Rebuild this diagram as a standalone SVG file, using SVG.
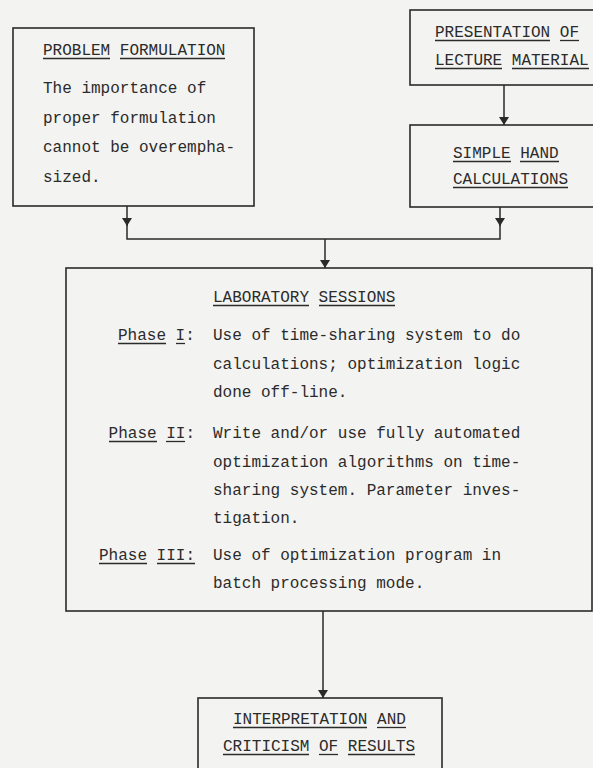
<svg xmlns="http://www.w3.org/2000/svg" width="593" height="768" viewBox="0 0 593 768">
<defs>
<style>
.box{fill:none;stroke:#2a2a2a;stroke-width:1.6}
.t{font-family:"Liberation Mono","Courier New",monospace;font-size:16px;fill:#2b2b2b}
.u{stroke:#2b2b2b;stroke-width:1.3}
.c{fill:none;stroke:#2a2a2a;stroke-width:1.5}
</style>
<marker id="ah" viewBox="0 0 8 10" refX="8" refY="5" markerWidth="8" markerHeight="10" markerUnits="userSpaceOnUse" orient="auto">
<path d="M0,0 L8,5 L0,10 z" fill="#2a2a2a"/>
</marker>
</defs>
<rect width="593" height="768" fill="#f3f3f1"/>

<g id="problem">
<rect class="box" x="13" y="28" width="241" height="178"/>
<text class="t" x="43" y="55">PROBLEM FORMULATION</text>
<line class="u" x1="43" y1="58.5" x2="110" y2="58.5"/>
<line class="u" x1="120" y1="58.5" x2="225" y2="58.5"/>
<text class="t" x="43" y="93">The importance of</text>
<text class="t" x="43" y="122.5">proper formulation</text>
<text class="t" x="43" y="152">cannot be overempha-</text>
<text class="t" x="43" y="181.5">sized.</text>
</g>

<g id="presentation">
<rect class="box" x="410" y="10" width="200" height="75"/>
<text class="t" x="435" y="37">PRESENTATION OF</text>
<line class="u" x1="435" y1="40.5" x2="550" y2="40.5"/>
<line class="u" x1="560" y1="40.5" x2="579" y2="40.5"/>
<text class="t" x="435" y="65">LECTURE MATERIAL</text>
<line class="u" x1="435" y1="68.5" x2="502" y2="68.5"/>
<line class="u" x1="512" y1="68.5" x2="589" y2="68.5"/>
</g>

<g id="simple">
<rect class="box" x="410" y="125" width="200" height="82"/>
<text class="t" x="453" y="158">SIMPLE HAND</text>
<line class="u" x1="453" y1="161.5" x2="511" y2="161.5"/>
<line class="u" x1="520" y1="161.5" x2="559" y2="161.5"/>
<text class="t" x="453" y="184">CALCULATIONS</text>
<line class="u" x1="453" y1="187.5" x2="568" y2="187.5"/>
</g>

<g id="lab">
<rect class="box" x="66" y="268" width="526" height="343"/>
<text class="t" x="213" y="302">LABORATORY SESSIONS</text>
<line class="u" x1="213" y1="305.5" x2="309" y2="305.5"/>
<line class="u" x1="319" y1="305.5" x2="395" y2="305.5"/>

<text class="t" x="118" y="340">Phase I:</text>
<line class="u" x1="118" y1="343.5" x2="166" y2="343.5"/>
<line class="u" x1="176" y1="343.5" x2="185" y2="343.5"/>
<text class="t" x="213" y="340">Use of time-sharing system to do</text>
<text class="t" x="213" y="368.5">calculations; optimization logic</text>
<text class="t" x="213" y="397">done off-line.</text>

<text class="t" x="108.6" y="438">Phase II:</text>
<line class="u" x1="109" y1="441.5" x2="157" y2="441.5"/>
<line class="u" x1="166" y1="441.5" x2="185" y2="441.5"/>
<text class="t" x="213" y="438">Write and/or use fully automated</text>
<text class="t" x="213" y="466.5">optimization algorithms on time-</text>
<text class="t" x="213" y="495">sharing system. Parameter inves-</text>
<text class="t" x="213" y="523">tigation.</text>

<text class="t" x="99" y="560">Phase III:</text>
<line class="u" x1="99" y1="563.5" x2="147" y2="563.5"/>
<line class="u" x1="157" y1="563.5" x2="195" y2="563.5"/>
<text class="t" x="213" y="560">Use of optimization program in</text>
<text class="t" x="213" y="588">batch processing mode.</text>
</g>

<g id="interpretation">
<rect class="box" x="198" y="698" width="244" height="80"/>
<text class="t" x="233" y="724">INTERPRETATION AND</text>
<line class="u" x1="233" y1="727.5" x2="367" y2="727.5"/>
<line class="u" x1="377" y1="727.5" x2="406" y2="727.5"/>
<text class="t" x="223" y="751">CRITICISM OF RESULTS</text>
<line class="u" x1="223" y1="754.5" x2="309" y2="754.5"/>
<line class="u" x1="319" y1="754.5" x2="338" y2="754.5"/>
<line class="u" x1="348" y1="754.5" x2="415" y2="754.5"/>
</g>

<g id="connectors">
<path class="c" d="M504,85 V125" marker-end="url(#ah)"/>
<path class="c" d="M127,206 V226" marker-end="url(#ah)"/>
<path class="c" d="M127,224 V239 H500 V224"/>
<path class="c" d="M500,207 V226" marker-end="url(#ah)"/>
<path class="c" d="M325,239 V268" marker-end="url(#ah)"/>
<path class="c" d="M323,611 V698" marker-end="url(#ah)"/>
</g>
</svg>
